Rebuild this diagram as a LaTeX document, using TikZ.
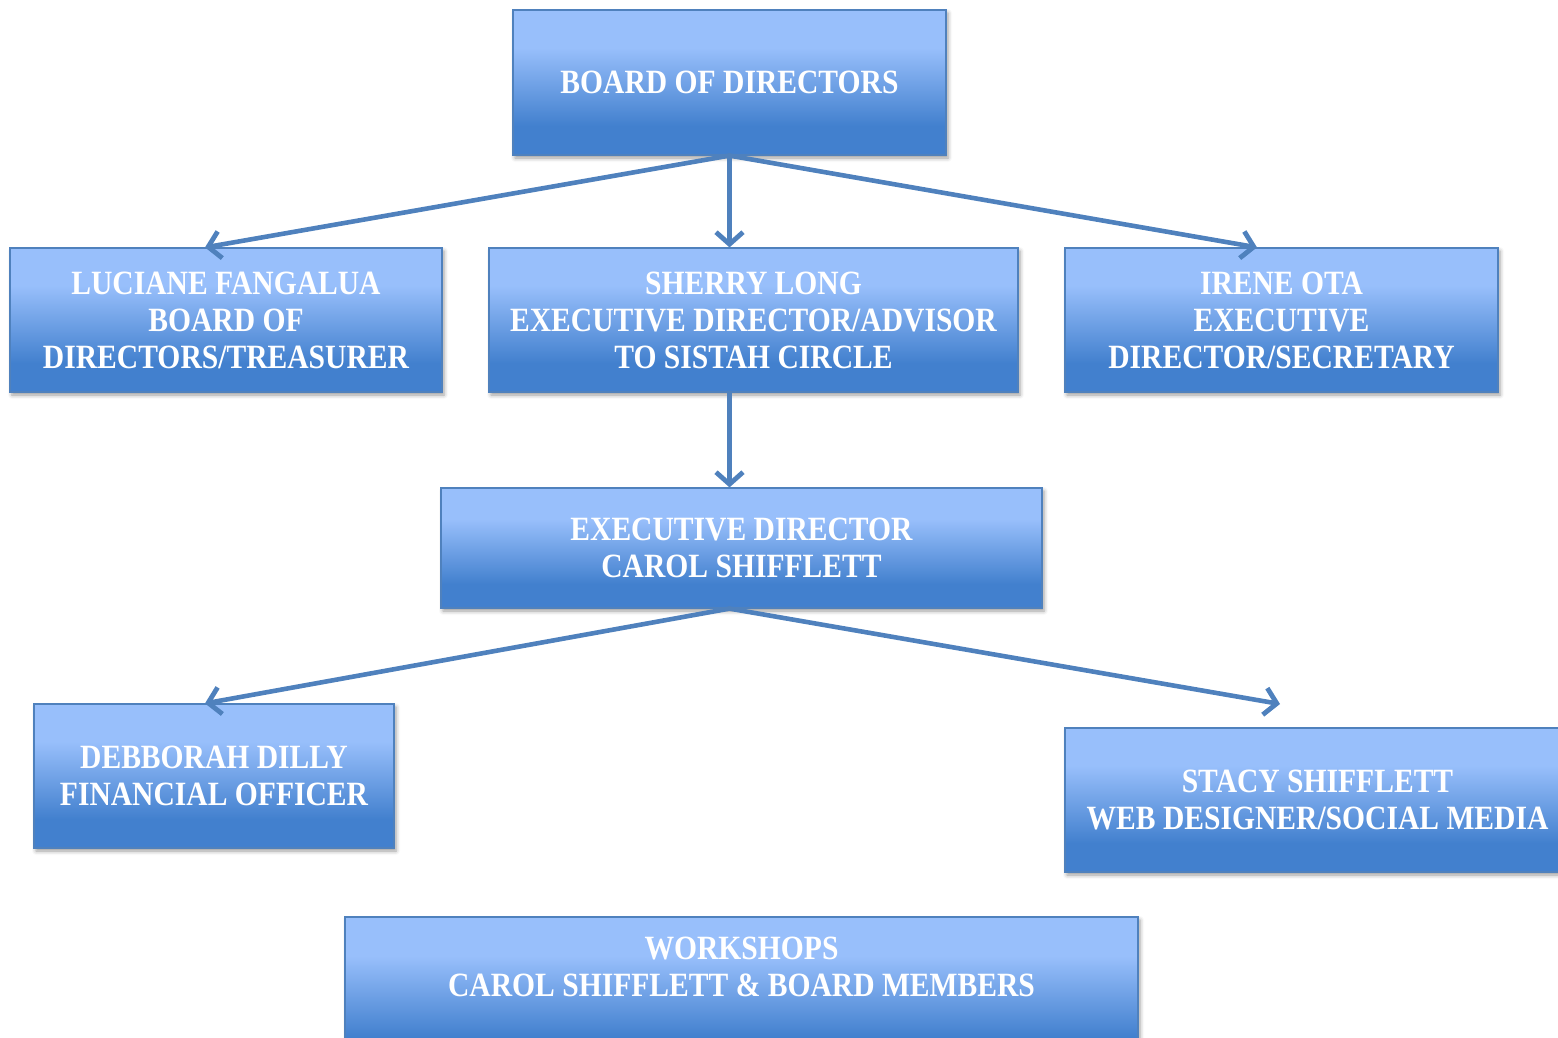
\documentclass[tikz,border=0pt]{standalone}
\usepackage{fontspec}
\newfontfamily\boxfont{Liberation Serif}[FakeStretch=0.87]
\usetikzlibrary{arrows.meta,shadows.blur}
\definecolor{boxlight}{RGB}{152,191,251}
\definecolor{boxdark}{RGB}{66,128,206}
\definecolor{boxborder}{RGB}{79,129,189}
\definecolor{arrowcol}{RGB}{79,129,189}
\pgfdeclareverticalshading{boxshade}{100bp}{color(0bp)=(boxdark); color(25bp)=(boxdark); color(35bp)=(boxdark); color(62bp)=(boxlight); color(75bp)=(boxlight); color(100bp)=(boxlight)}
\tikzset{
  box/.style={rectangle, draw=boxborder, line width=1.2pt, shade, shading=boxshade,
    inner sep=0pt, align=center, text=white,
    font=\boxfont\bfseries\fontsize{34}{37}\selectfont,
    blur shadow={shadow xshift=2pt, shadow yshift=-3pt, shadow blur radius=4pt, shadow opacity=40}},
  boxtext/.style={align=center, text=white, inner sep=0pt,
    font=\boxfont\bfseries\fontsize{34}{37}\selectfont},
  conn/.style={draw=arrowcol, line width=4.6pt, line cap=round,
    -{Straight Barb[length=12pt,width=27pt,line width=4.8pt]}}
}
\begin{document}
\begin{tikzpicture}[x=1pt,y=-1pt]
\useasboundingbox (0,0) rectangle (1558,1038);
\clip (0,0) rectangle (1558,1038);
\node[box, minimum width=433pt, minimum height=145pt] (board) at (729.5,82.5) {BOARD OF DIRECTORS};
\node[box, minimum width=432pt, minimum height=144pt] (luc) at (226,320) {LUCIANE FANGALUA\\BOARD OF\\DIRECTORS/TREASURER};
\node[box, minimum width=529pt, minimum height=144pt] (sher) at (753.5,320) {SHERRY LONG\\EXECUTIVE DIRECTOR/ADVISOR\\TO SISTAH CIRCLE};
\node[box, minimum width=433pt, minimum height=144pt] (irene) at (1281.5,320) {IRENE OTA\\EXECUTIVE\\DIRECTOR/SECRETARY};
\node[box, minimum width=601pt, minimum height=120pt] (exec) at (741.5,548) {EXECUTIVE DIRECTOR\\CAROL SHIFFLETT};
\node[box, minimum width=360pt, minimum height=144pt] (debb) at (214,776) {DEBBORAH DILLY\\FINANCIAL OFFICER};
\node[box, minimum width=505pt, minimum height=144pt] (stacy) at (1317.5,800) {STACY SHIFFLETT\\WEB DESIGNER/SOCIAL MEDIA};
\node[box, minimum width=793pt, minimum height=150pt] (ws) at (741.5,992) {};
\node[boxtext] (wstext) at (741.5,966.5) {WORKSHOPS\\CAROL SHIFFLETT \& BOARD MEMBERS};
\coordinate (stacyend) at (1280,704);
\draw[conn] (board.south) -- ([xshift=-21pt]luc.north);
\draw[conn] (board.south) -- (board.south |- sher.north);
\draw[conn] (board.south) -- ([xshift=-24.5pt]irene.north);
\draw[conn] (board.south |- sher.south) -- (board.south |- exec.north);
\draw[conn] ([xshift=-12pt]exec.south) -- ([xshift=-9pt]debb.north);
\draw[conn] ([xshift=-12pt]exec.south) -- (stacyend);
\end{tikzpicture}
\end{document}
